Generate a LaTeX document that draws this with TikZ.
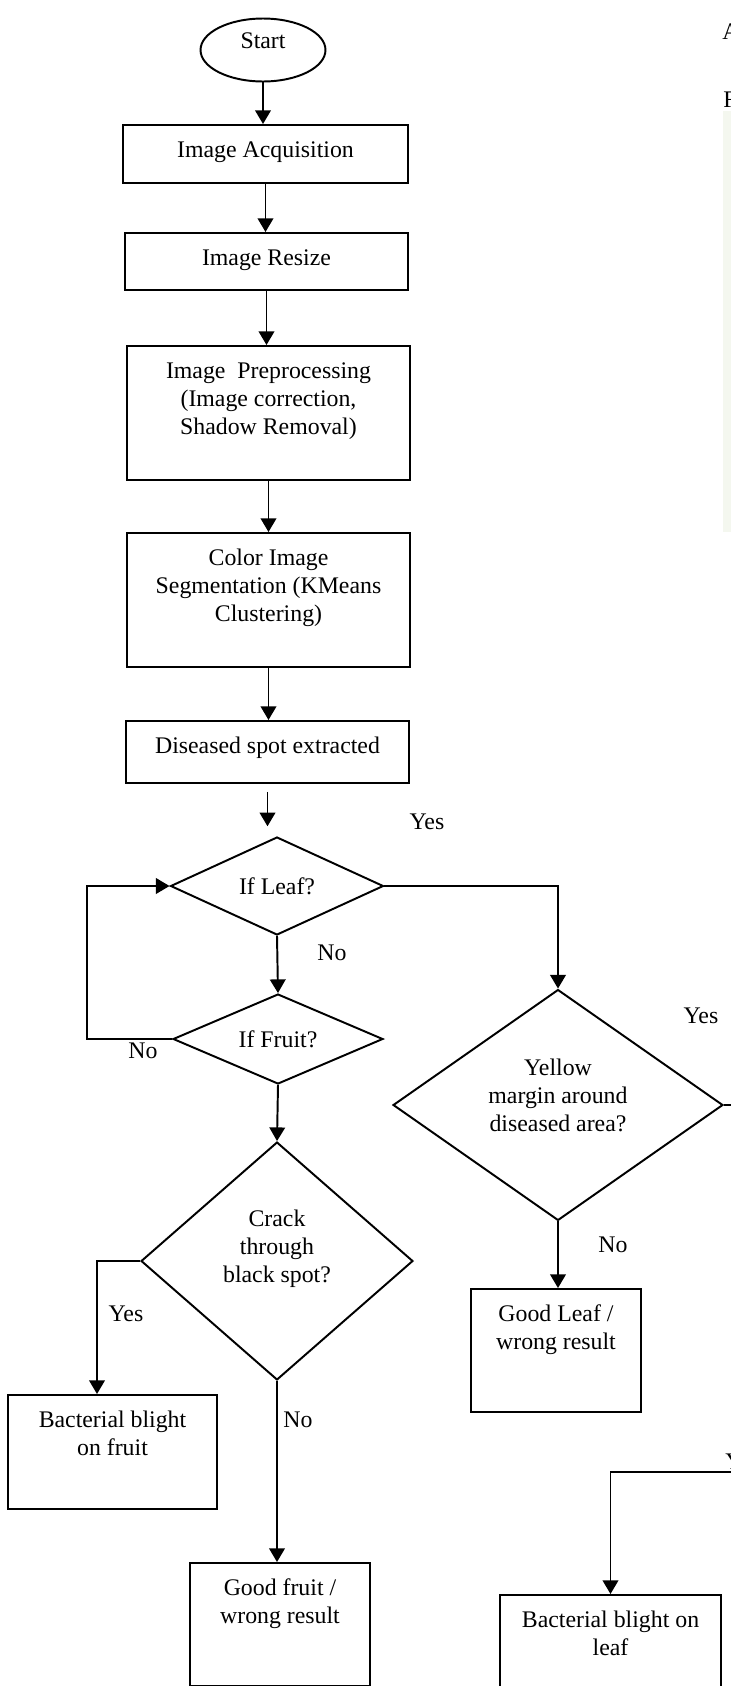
\documentclass[tikz,border=0pt]{standalone}
\usepackage{fontspec}
\setmainfont{Liberation Serif}
\usetikzlibrary{shapes.geometric, arrows.meta}

\definecolor{photoedge}{RGB}{244,247,239}
\newcommand{\boxlines}[3]{\parbox[c][#2][t]{#1}{\centering\rule{0pt}{16.5pt}#3}}

\begin{document}
\begin{tikzpicture}[x=0.018cm, y=-0.018cm,
    font=\fontsize{12.2}{14.4}\selectfont,
    every node/.style={inner sep=0pt},
    terminal/.style={draw, line width=1pt, ellipse, minimum width=2.25cm, minimum height=1.134cm},
    procbox/.style={draw, line width=1pt, rectangle, anchor=north},
    decision/.style={draw, line width=1pt, diamond, aspect=1.5, align=center},
    arr/.style={line width=1pt, -{Triangle[length=7pt, width=8pt]}},
    link/.style={line width=1pt}
]
\useasboundingbox (0,0) rectangle (731,1686);

% Edge of the page next to the chart
\fill[photoedge] (723,111) rectangle (731,532);
\node[anchor=west] (edgeA) at (722,32) {A};
\node[anchor=west] (edgeF) at (723,100) {F};

% Main column
\node[terminal] (start) at (263,50) {Start\rule[-10pt]{0pt}{0pt}};
\node[procbox] (acq) at (265.5,124) {\boxlines{5.13cm}{1.044cm}{Image Acquisition}};
\node[procbox] (resize) at (266.5,232) {\boxlines{5.094cm}{1.026cm}{Image Resize}};
\node[procbox] (preproc) at (268.5,345) {\boxlines{5.094cm}{2.412cm}{Image~ Preprocessing\\(Image correction,\\Shadow Removal)}};
\node[procbox] (seg) at (268.5,532) {\boxlines{5.094cm}{2.412cm}{Color Image\\Segmentation (KMeans\\Clustering)}};
\node[procbox] (spot) at (267.5,720) {\boxlines{5.094cm}{1.116cm}{Diseased spot extracted}};

% Decisions
\node[decision, minimum width=3.834cm, minimum height=1.764cm] (leaf) at (277,886) {If Leaf?};
\node[decision, minimum width=3.78cm, minimum height=1.62cm] (fruit) at (278,1039) {If Fruit?};
\node[decision, minimum width=5.94cm, minimum height=4.158cm] (yellow) at (558,1105) {Yellow\\margin around\\diseased area?\rule[-10pt]{0pt}{0pt}};
\node[decision, minimum width=4.896cm, minimum height=4.284cm] (crack) at (277,1261) {Crack\\through\\black spot?\rule[-15pt]{0pt}{0pt}};

% Results
\node[procbox] (goodleaf) at (556,1288) {\boxlines{3.06cm}{2.214cm}{Good Leaf /\\wrong result}};
\node[procbox] (blightfruit) at (112.5,1394) {\boxlines{3.762cm}{2.052cm}{Bacterial blight\\on fruit}};
\node[procbox] (goodfruit) at (280,1562) {\boxlines{3.24cm}{2.214cm}{Good fruit /\\wrong result}};
\node[procbox] (blightleaf) at (610.5,1594) {\boxlines{3.978cm}{2.34cm}{Bacterial blight on\\leaf}};

% Free ends
\coordinate (yesfruit) at (97,1394);
\coordinate (yesleaf) at (731,1105);
\coordinate (fromright) at (731,1472);

% Connectors
\draw[arr] (start) -- (start |- acq.north);
\draw[arr] (acq) -- (acq |- resize.north);
\draw[arr] (resize) -- (resize |- preproc.north);
\draw[arr] (preproc) -- (preproc |- seg.north);
\draw[arr] (seg) -- (seg |- spot.north);
\draw[arr, shorten <=4pt, shorten >=5pt] (spot.south) -- (spot.south |- leaf.north);
\draw[arr] (leaf.east) -| (yellow.north);
\draw[arr] (leaf.south) -- (fruit.north);
\draw[arr] (fruit.west) -- ++(-85,0) |- (leaf.west);
\draw[arr] (fruit.south) -- (crack.north);
\draw[arr] (crack.west) -| (yesfruit);
\draw[arr] (crack.south) -- (crack.south |- goodfruit.north);
\draw[arr] (yellow.south) -- (yellow.south |- goodleaf.north);
\draw[link] (yellow.east) -- (yesleaf);
\draw[arr] (fromright) -| (blightleaf.north);

% Answers
\node (yesA) at (427,822) {Yes};
\node (noA) at (332,953) {No};
\node (noB) at (143,1051) {No};
\node (yesB) at (701,1016) {Yes};
\node (noC) at (613,1245) {No};
\node (yesC) at (126,1314) {Yes};
\node[anchor=west] (noD) at (283,1420) {No};
\node[anchor=west] (yesD) at (725,1462) {Yes};

\end{tikzpicture}
\end{document}
